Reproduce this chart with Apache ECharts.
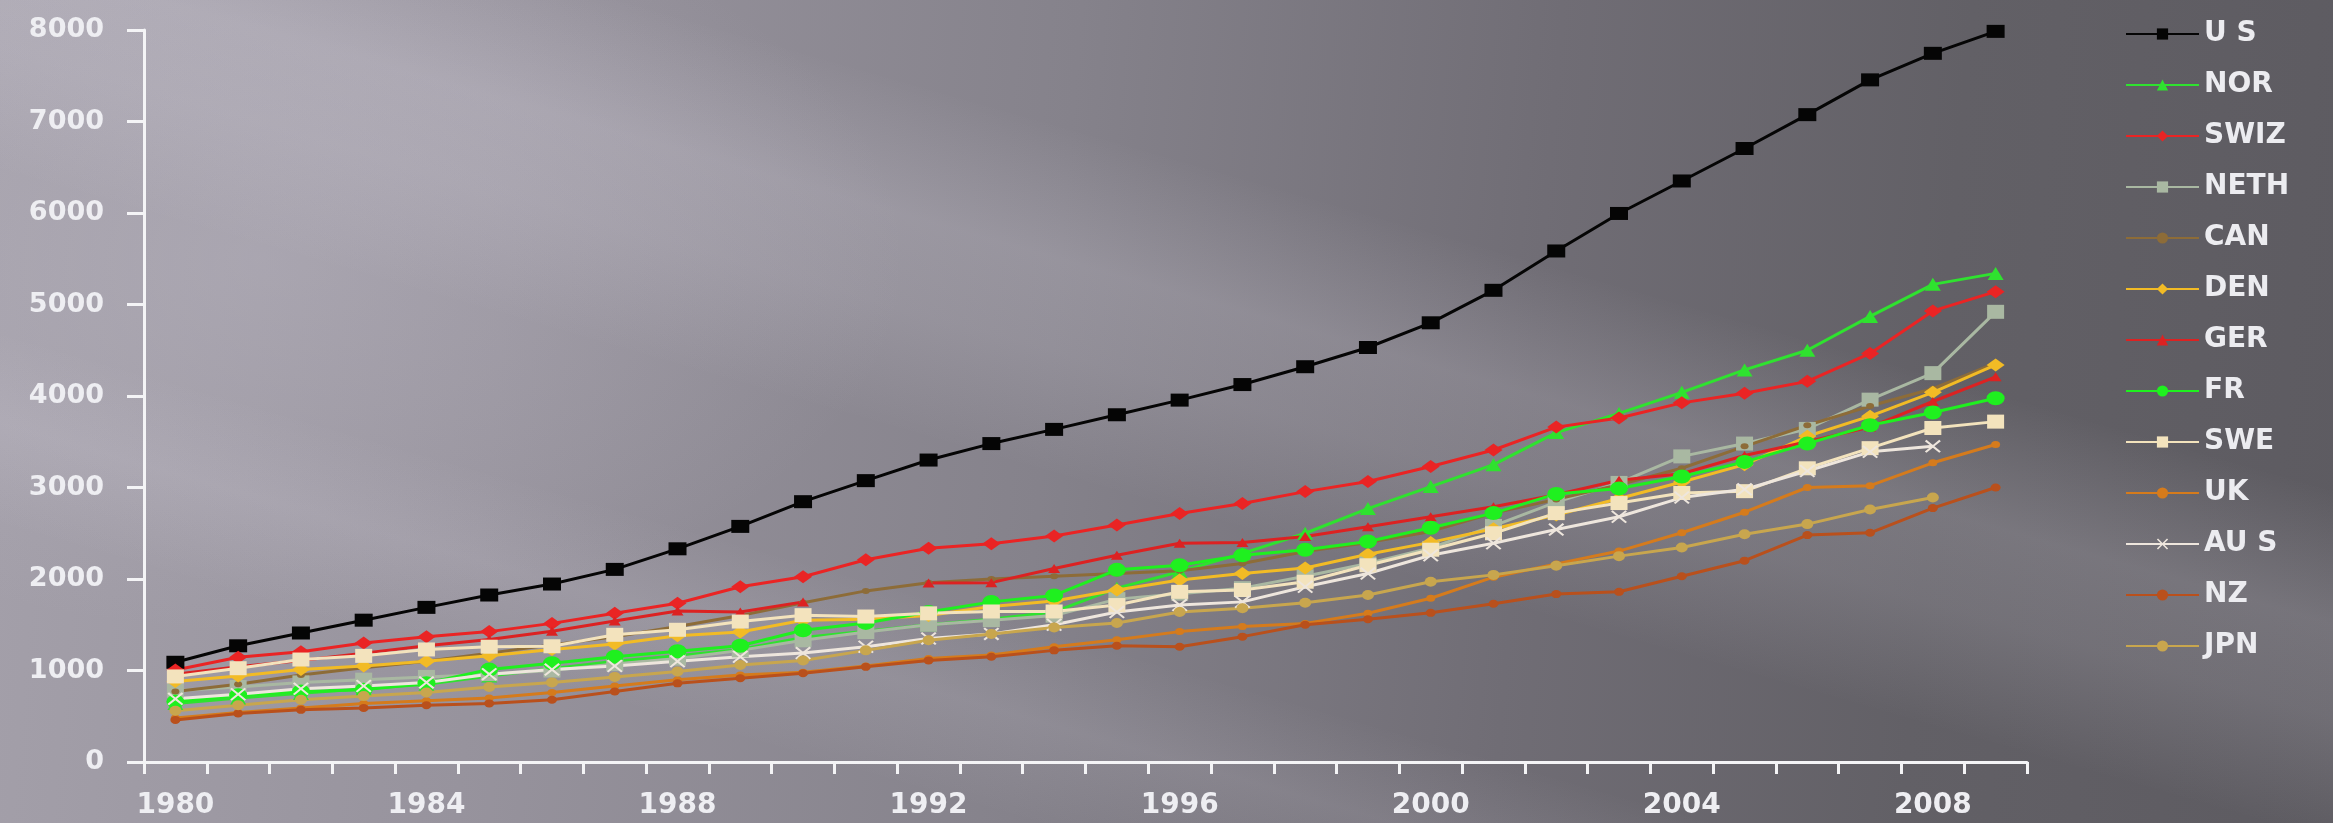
<!DOCTYPE html>
<html>
<head>
<meta charset="utf-8">
<script src="https://cdn.jsdelivr.net/npm/echarts@6/dist/echarts.min.js"></script>
<style>
  html, body { margin: 0; padding: 0; }
  #chart {
    width: 2333px;
    height: 823px;
    background:
      linear-gradient(196deg, rgba(240,236,248,0) 470px, rgba(240,236,248,0.17) 600px, rgba(240,236,248,0.13) 690px, rgba(240,236,248,0) 810px),
      linear-gradient(196deg, rgba(240,236,248,0) 960px, rgba(240,236,248,0.10) 1050px, rgba(240,236,248,0) 1150px),
      radial-gradient(ellipse 900px 520px at 260px 260px, rgba(196,192,204,0.32), rgba(196,192,204,0) 72%),
      linear-gradient(95deg, #a4a0aa 0%, #97939d 22%, #85828b 45%, #706d75 65%, #626066 82%, #5d5b61 100%);
  }
</style>
</head>
<body>
<div id="chart"></div>
<script>
// Health spending per person, 1980-2009
const years = ['1980','1981','1982','1983','1984','1985','1986','1987','1988','1989',
               '1990','1991','1992','1993','1994','1995','1996','1997','1998','1999',
               '2000','2001','2002','2003','2004','2005','2006','2007','2008','2009'];

const US   = [1090,1270,1410,1550,1690,1825,1945,2105,2330,2575,2845,3075,3300,3480,3635,3795,3955,4125,4320,4530,4800,5155,5585,5995,6350,6705,7075,7455,7745,7985];
const NOR  = [640,700,750,800,850,940,1020,1100,1160,1230,1360,1430,1500,1560,1640,1900,2080,2280,2500,2770,3010,3250,3600,3810,4040,4285,4500,4870,5220,5340];
const SWIZ = [1005,1145,1205,1300,1370,1425,1515,1625,1735,1915,2025,2210,2335,2385,2470,2590,2715,2825,2955,3065,3230,3410,3660,3760,3925,4030,4160,4465,4930,5140];
const NETH = [780,820,870,900,930,960,1000,1070,1130,1220,1330,1420,1500,1550,1600,1780,1840,1900,2030,2170,2340,2580,2840,3050,3340,3480,3640,3960,4250,4920];
const CAN  = [770,850,950,1030,1100,1190,1280,1370,1480,1600,1740,1870,1960,2000,2030,2060,2090,2170,2300,2400,2520,2720,2870,3030,3210,3450,3680,3890,4080,4360];
const DEN  = [880,940,1010,1050,1100,1160,1230,1290,1380,1420,1550,1560,1600,1700,1760,1880,1990,2060,2120,2270,2400,2550,2700,2880,3060,3250,3560,3780,4040,4340];
const GER  = [960,1040,1110,1190,1270,1340,1430,1540,1650,1640,1750,null,1955,1960,2115,2260,2390,2400,2465,2570,2680,2790,2920,3080,3150,3350,3500,3660,3940,4210];
const FR   = [660,730,770,790,860,1010,1080,1150,1210,1270,1440,1520,1640,1750,1820,2100,2150,2260,2320,2410,2560,2720,2930,2990,3120,3280,3480,3680,3820,3975];
const SWE  = [935,1025,1120,1160,1230,1260,1265,1390,1445,1535,1605,1590,1625,1645,1645,1715,1860,1880,1970,2150,2320,2500,2720,2830,2940,2960,3210,3430,3650,3720];
const UK   = [480,540,590,640,670,700,760,830,900,950,980,1050,1130,1170,1260,1335,1425,1480,1515,1625,1790,2020,2165,2305,2505,2730,3000,3020,3270,3470];
const AUS  = [690,740,800,830,870,960,1010,1050,1100,1150,1190,1260,1350,1400,1500,1640,1715,1750,1915,2060,2260,2390,2540,2680,2890,2980,3180,3390,3450,null];
const NZ   = [460,530,570,590,620,640,680,770,860,915,970,1040,1110,1150,1220,1270,1260,1370,1500,1560,1630,1730,1835,1860,2030,2200,2480,2505,2775,3000];
const JPN  = [560,620,680,720,760,820,870,930,990,1060,1110,1220,1330,1400,1470,1520,1640,1680,1740,1825,1970,2045,2145,2250,2345,2490,2600,2760,2890,null];

const names = ['U S','NOR','SWIZ','NETH','CAN','DEN','GER','FR','SWE','UK','AU S','NZ','JPN'];
const values = [US, NOR, SWIZ, NETH, CAN, DEN, GER, FR, SWE, UK, AUS, NZ, JPN];

// cross-shaped marker for the AUS line
const crossMark = 'path://M0,1L1,0L5,4L9,0L10,1L6,5L10,9L9,10L5,6L1,10L0,9L4,5Z';

const looks = [
  { color: '#050505', symbol: 'rect',     size: [18, 13] },
  { color: '#2fe22f', symbol: 'triangle', size: [16, 13] },
  { color: '#ea2424', symbol: 'diamond',  size: [18, 13] },
  { color: '#a9b8a2', symbol: 'rect',     size: [17, 14] },
  { color: '#8d6c38', symbol: 'circle',   size: [8, 6] },
  { color: '#f2bb25', symbol: 'diamond',  size: [18, 13] },
  { color: '#dc2222', symbol: 'triangle', size: [12, 9] },
  { color: '#1ff01f', symbol: 'circle',   size: [18, 14] },
  { color: '#f3e3bd', symbol: 'rect',     size: [17, 14] },
  { color: '#d57b1c', symbol: 'circle',   size: [9, 7] },
  { color: '#eee6dd', symbol: crossMark,  size: [16, 13] },
  { color: '#b9501c', symbol: 'circle',   size: [10, 8] },
  { color: '#c8a64e', symbol: 'circle',   size: [12, 10] }
];

const font = 'DejaVu Sans';

const series = names.map((name, i) => ({
  name: name,
  type: 'line',
  data: values[i],
  symbol: looks[i].symbol,
  symbolSize: looks[i].size,
  showAllSymbol: true,
  connectNulls: false,
  lineStyle: { color: looks[i].color, width: 3 },
  itemStyle: { color: looks[i].color, borderWidth: 0 },
  emphasis: { disabled: true },
  animation: false
}));

const chart = echarts.init(document.getElementById('chart'), null, { renderer: 'canvas' });
chart.setOption({
  backgroundColor: 'transparent',
  animation: false,
  grid: { left: 144, right: 306, top: 30, bottom: 61, containLabel: false },
  legend: {
    orient: 'vertical',
    left: 2120,
    top: 14,
    itemWidth: 73,
    itemHeight: 14,
    itemGap: 21,
    data: names,
    textStyle: { color: '#ececf0', fontSize: 28, fontWeight: 'bold', fontFamily: font, lineHeight: 30 }
  },
  xAxis: {
    type: 'category',
    data: years,
    boundaryGap: true,
    axisLine: { lineStyle: { color: '#f4f4f6', width: 3 } },
    axisTick: { show: true, interval: 0, length: 12, lineStyle: { color: '#f4f4f6', width: 3 } },
    axisLabel: { interval: 3, margin: 30, color: '#eeeef2', fontSize: 28, fontWeight: 'bold', fontFamily: font },
    splitLine: { show: false }
  },
  yAxis: {
    type: 'value',
    min: 0,
    max: 8000,
    interval: 1000,
    axisLine: { show: true, lineStyle: { color: '#f4f4f6', width: 3 } },
    axisTick: { show: true, length: 17, lineStyle: { color: '#f4f4f6', width: 3 } },
    axisLabel: {
      margin: 40, color: '#eeeef2', fontSize: 27, fontWeight: 'bold', fontFamily: font,
      formatter: (v) => String(v)
    },
    splitLine: { show: false }
  },
  series: series
});
</script>
</body>
</html>
